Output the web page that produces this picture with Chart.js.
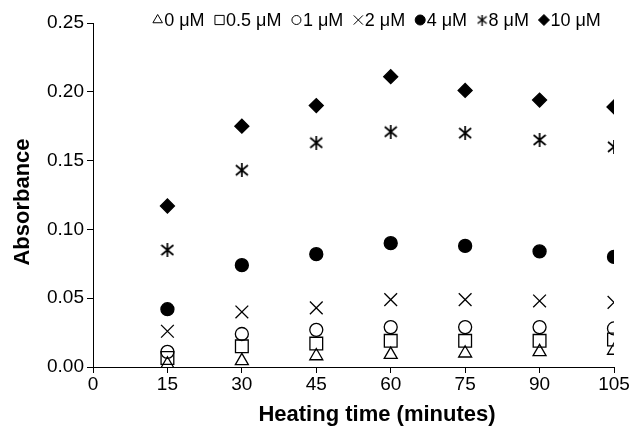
<!DOCTYPE html>
<html>
<head>
<meta charset="utf-8">
<script src="https://cdn.jsdelivr.net/npm/chart.js@4"></script>
<style>
  body { margin: 0; background: #fff; }
  #wrap { width: 630px; height: 428px; }
</style>
</head>
<body>
<div id="wrap"><canvas id="chart" width="630" height="428"></canvas></div>
<script>
// heating time (minutes)
const times = [15, 30, 45, 60, 75, 90, 105]
// absorbance, one array per concentration
const abs0 = [0.002, 0.0045, 0.008, 0.009, 0.010, 0.011, 0.012]
const abs05 = [0.0065, 0.015, 0.017, 0.019, 0.019, 0.019, 0.020]
const abs1 = [0.011, 0.024, 0.027, 0.029, 0.029, 0.029, 0.028]
const abs2 = [0.026, 0.040, 0.043, 0.049, 0.049, 0.048, 0.047]
const abs4 = [0.042, 0.074, 0.082, 0.090, 0.088, 0.084, 0.080]
const abs8 = [0.085, 0.143, 0.163, 0.171, 0.170, 0.165, 0.160]
const abs10 = [0.117, 0.175, 0.190, 0.211, 0.201, 0.194, 0.189]
const seriesLabels = ['0 μM', '0.5 μM', '1 μM', '2 μM', '4 μM', '8 μM', '10 μM']
const xTicks = [0, 15, 30, 45, 60, 75, 90, 105]
const yTicks = [0, 0.05, 0.10, 0.15, 0.20, 0.25]

const ink = '#000'
const font = 'Arial, "Liberation Sans", sans-serif'

// asterisk marker (X with a vertical bar), not built into chart.js
function asterisk(size, lw) {
    const c = document.createElement('canvas')
    c.width = size
    c.height = size
    const g = c.getContext('2d')
    const m = size / 2
    g.strokeStyle = ink
    g.lineWidth = lw
    g.beginPath()
    g.moveTo(m, 0); g.lineTo(m, size)
    g.moveTo(1, 2); g.lineTo(size - 1, size - 2)
    g.moveTo(size - 1, 2); g.lineTo(1, size - 2)
    g.stroke()
    return c
}

const pts = (arr) => times.map((t, i) => ({ x: t, y: arr[i] }))

const styles = [
    { pointStyle: 'triangle', radius: 7.5, fill: false },
    { pointStyle: 'rect', radius: 9, fill: false },
    { pointStyle: 'circle', radius: 6.5, fill: false },
    { pointStyle: 'crossRot', radius: 9, fill: false },
    { pointStyle: 'circle', radius: 6.5, fill: true },
    { pointStyle: asterisk(14, 1.7), radius: 7, fill: false },
    { pointStyle: 'rectRot', radius: 7, fill: true },
]
const legendStyles = [
    { pointStyle: 'triangle', radius: 5.5, fill: false },
    { pointStyle: 'rect', radius: 6.5, fill: false },
    { pointStyle: 'circle', radius: 4.5, fill: false },
    { pointStyle: 'crossRot', radius: 6.5, fill: false },
    { pointStyle: 'circle', radius: 5, fill: true },
    { pointStyle: asterisk(11, 1.4), radius: 5, fill: false },
    { pointStyle: 'rectRot', radius: 5.5, fill: true },
]
const allSeries = [abs0, abs05, abs1, abs2, abs4, abs8, abs10]

const datasets = allSeries.map((arr, i) => ({
    label: seriesLabels[i],
    data: pts(arr),
    showLine: false,
    pointStyle: styles[i].pointStyle,
    pointRadius: styles[i].radius,
    pointHoverRadius: styles[i].radius,
    pointBorderWidth: 1.3,
    pointBorderColor: ink,
    pointBackgroundColor: styles[i].fill ? ink : 'rgba(0,0,0,0)',
}))

// legend and axis titles drawn by hand: the legend sits on the top tick's line
// and the titles are off-centre in the original
const extras = {
    id: 'extras',
    afterDraw(chart) {
        const ctx = chart.ctx
        ctx.save()
        ctx.font = '18px ' + font
        ctx.textBaseline = 'middle'
        const markW = 11, markGap = 1, itemGap = 9.5
        const widths = seriesLabels.map(l => ctx.measureText(l).width)
        const total = widths.reduce((a, b) => a + b, 0) + seriesLabels.length * (markW + markGap) + (seriesLabels.length - 1) * itemGap
        let x = 376.5 - total / 2
        const y = 20
        seriesLabels.forEach((lab, i) => {
            const s = legendStyles[i]
            ctx.strokeStyle = ink
            ctx.fillStyle = s.fill ? ink : 'rgba(0,0,0,0)'
            ctx.lineWidth = 1
            Chart.helpers.drawPoint(ctx, { pointStyle: s.pointStyle, radius: s.radius, borderWidth: 1, rotation: 0 }, x + markW / 2, y)
            ctx.fillStyle = ink
            ctx.textAlign = 'left'
            ctx.fillText(lab, x + markW + markGap, y + 1)
            x += markW + markGap + widths[i] + itemGap
        })
        ctx.font = 'bold 22px ' + font
        ctx.textAlign = 'center'
        ctx.fillText('Heating time (minutes)', 377, 415)
        ctx.translate(23, 202)
        ctx.rotate(-Math.PI / 2)
        ctx.fillText('Absorbance', 0, 0)
        ctx.restore()
    }
}

new Chart(document.getElementById('chart'), {
    type: 'scatter',
    data: { datasets },
    options: {
        responsive: false,
        animation: false,
        layout: { padding: { top: 23, right: 16, left: 0, bottom: 0 } },
        plugins: { legend: { display: false }, tooltip: { enabled: false } },
        scales: {
            x: {
                type: 'linear',
                min: 0,
                max: 105,
                afterBuildTicks: (s) => { s.ticks = xTicks.map(v => ({ value: v })) },
                afterFit: (s) => { s.height = 61 },
                grid: { drawOnChartArea: false, tickLength: 6, color: ink },
                border: { color: ink, width: 1 },
                ticks: { color: ink, font: { size: 19, family: font }, padding: 0 },
            },
            y: {
                min: 0,
                max: 0.25,
                afterBuildTicks: (s) => { s.ticks = yTicks.map(v => ({ value: v })) },
                afterFit: (s) => { s.width = 93 },
                grid: { drawOnChartArea: false, tickLength: 6, color: ink },
                border: { color: ink, width: 1 },
                ticks: { color: ink, font: { size: 19, family: font }, padding: 3, callback: (v) => v.toFixed(2) },
            },
        },
    },
    plugins: [extras],
})
</script>
</body>
</html>
